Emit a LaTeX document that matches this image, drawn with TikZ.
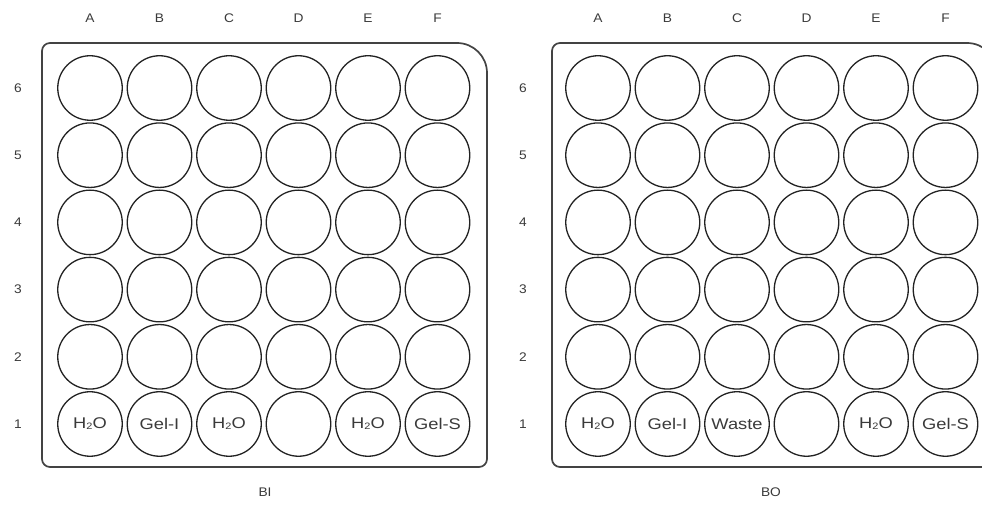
\documentclass[tikz,border=0pt]{standalone}
\usepackage{fontspec}
\setmainfont{Liberation Sans}
\newfontfamily\widefont[FakeStretch=1.18]{Liberation Sans}
\newfontfamily\axisfont[FakeStretch=1.1]{Liberation Sans}
\usepackage{graphicx}
\definecolor{ink}{HTML}{222222}
\definecolor{txt}{HTML}{3A3A3A}
\newcommand{\hto}{H\raisebox{-0.1ex}{\scalebox{0.6}{2}}O}
\begin{document}
\begin{tikzpicture}[x=1pt,y=1pt,
  well/.style={circle,draw=ink,line width=1.3pt,minimum size=64.5pt,inner sep=0pt,font=\widefont\fontsize{15.5}{15.5}\selectfont,text=txt},
  axis/.style={font=\axisfont\fontsize{12.5}{12.5}\selectfont,text=txt,inner sep=0pt},
  plate/.style={draw=ink!85,line width=1.7pt}]
\useasboundingbox (0,0) rectangle (982,508);
% plates
\draw[plate] (42,49) -- (42,457) arc[start angle=180,end angle=90,radius=8] -- (457,465) arc[start angle=90,end angle=0,radius=30] -- (487,49) arc[start angle=0,end angle=-90,radius=8] -- (50,41) arc[start angle=270,end angle=180,radius=8] -- cycle;
\begin{scope}
\clip (0,0) rectangle (982,508);
\draw[plate] (552,49) -- (552,457) arc[start angle=180,end angle=90,radius=8] -- (967,465) arc[start angle=90,end angle=0,radius=30] -- (997,49) arc[start angle=0,end angle=-90,radius=8] -- (560,41) arc[start angle=270,end angle=180,radius=8] -- cycle;
\end{scope}
% wells and labels
\foreach \p/\ox/\rx in {bi/0/18,bo/508/523}{
  \foreach \c [count=\i from 0] in {A,B,C,D,E,F}{
    \node[axis] (\p col\c) at ({90+\ox+69.5*\i},490) {\c};
  }
  \foreach \r in {1,...,6}{
    \node[axis] (\p row\r) at (\rx,{84+67.2*(\r-1)}) {\r};
  }
}
\foreach \p/\ox/\la/\lb/\lc/\ld/\le/\lf in {bi/0/\hto/Gel-I/\hto//\hto/Gel-S,bo/508/\hto/Gel-I/Waste//\hto/Gel-S}{
  \foreach \c/\t [count=\i from 0] in {A/\la,B/\lb,C/\lc,D/\ld,E/\le,F/\lf}{
    \node[well] (\p\c1) at ({90+\ox+69.5*\i},84) {\t};
    \foreach \r in {2,...,6}{
      \node[well] (\p\c\r) at ({90+\ox+69.5*\i},{84+67.2*(\r-1)}) {};
    }
  }
}
\node[axis] (biname) at (265,16) {BI};
\node[axis] (boname) at (771,16) {BO};
\end{tikzpicture}
\end{document}
